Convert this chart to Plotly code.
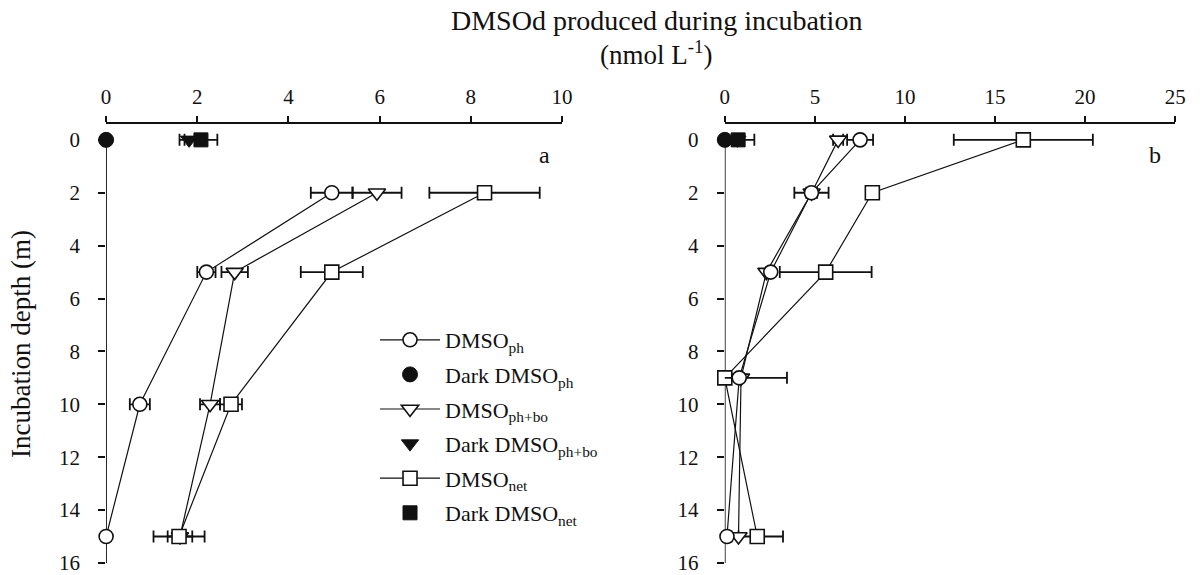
import plotly.graph_objects as go

# ---------------- data ----------------
# Panel a
a_depth = [2, 5, 10, 15]
a_ph = [4.95, 2.20, 0.74, 0.0]
a_ph_err = [0.46, 0.20, 0.22, 0.0]
a_phbo = [5.94, 2.82, 2.28, 1.62]
a_phbo_err = [0.54, 0.29, 0.22, 0.27]
a_net = [8.30, 4.95, 2.74, 1.60]
a_net_err = [1.21, 0.68, 0.24, 0.56]
a_dark_depth = [0]
a_dark_ph = [0.0]
a_dark_ph_err = [0.0]
a_dark_phbo = [1.82]
a_dark_phbo_err = [0.21]
a_dark_net = [2.08]
a_dark_net_err = [0.36]

# Panel b
b_depth = [0, 2, 5, 9, 15]
b_ph = [7.51, 4.81, 2.55, 0.80, 0.12]
b_ph_err = [0.72, 0.95, 0.0, 0.0, 0.0]
b_phbo = [6.29, 4.82, 2.31, 0.90, 0.76]
b_phbo_err = [0.28, 0.30, 0.0, 2.55, 0.0]
b_net = [16.57, 8.19, 5.60, 0.0, 1.80]
b_net_err = [3.86, 0.0, 2.55, 0.0, 1.43]
b_dark_depth = [0]
b_dark_ph = [0.0]
b_dark_ph_err = [0.0]
b_dark_phbo = [0.70]
b_dark_phbo_err = [0.0]
b_dark_net = [0.74]
b_dark_net_err = [0.90]

names = ["DMSO<sub>ph</sub>", "Dark DMSO<sub>ph</sub>",
         "DMSO<sub>ph+bo</sub>", "Dark DMSO<sub>ph+bo</sub>",
         "DMSO<sub>net</sub>", "Dark DMSO<sub>net</sub>"]

FONT = "Liberation Serif"
BLACK = "#111111"

# figure geometry (px) used to convert to paper coords
W, H, T, B = 1204, 575, 124, 11
PH = H - T - B


def py(pix):
    return (H - B - pix) / PH


fig = go.Figure()


def err(vals):
    return dict(type="data", array=vals, visible=True, color=BLACK,
                thickness=1.8, width=6)


def open_trace(x, e, y, symbol, size, name, xa, ya, show):
    return go.Scatter(
        x=x, y=y, mode="lines+markers", name=name, legendgroup=name,
        showlegend=show, xaxis=xa, yaxis=ya,
        line=dict(color=BLACK, width=1.2),
        marker=dict(symbol=symbol, size=size, color="white",
                    line=dict(color=BLACK, width=1.6)),
        error_x=err(e), cliponaxis=False)


def dark_trace(x, e, y, symbol, size, name, xa, ya, show):
    return go.Scatter(
        x=x, y=y, mode="markers", name=name, legendgroup=name,
        showlegend=show, xaxis=xa, yaxis=ya,
        marker=dict(symbol=symbol, size=size, color=BLACK,
                    line=dict(color=BLACK, width=1)),
        error_x=err(e), cliponaxis=False)


# legend order and panel a
fig.add_trace(open_trace(a_ph, a_ph_err, a_depth, "circle", 14, names[0], "x", "y", True))
fig.add_trace(dark_trace(a_dark_ph, a_dark_ph_err, a_dark_depth, "circle", 15, names[1], "x", "y", True))
fig.add_trace(open_trace(a_phbo, a_phbo_err, a_depth, "triangle-down", 15, names[2], "x", "y", True))
fig.add_trace(dark_trace(a_dark_phbo, a_dark_phbo_err, a_dark_depth, "triangle-down", 15, names[3], "x", "y", True))
fig.add_trace(open_trace(a_net, a_net_err, a_depth, "square", 14, names[4], "x", "y", True))
fig.add_trace(dark_trace(a_dark_net, a_dark_net_err, a_dark_depth, "square", 14, names[5], "x", "y", True))

# panel b
fig.add_trace(open_trace(b_net, b_net_err, b_depth, "square", 14, names[4], "x2", "y2", False))
fig.add_trace(open_trace(b_phbo, b_phbo_err, b_depth, "triangle-down", 15, names[2], "x2", "y2", False))
fig.add_trace(open_trace(b_ph, b_ph_err, b_depth, "circle", 14, names[0], "x2", "y2", False))
fig.add_trace(dark_trace(b_dark_phbo, b_dark_phbo_err, b_dark_depth, "triangle-down", 15, names[3], "x2", "y2", False))
fig.add_trace(dark_trace(b_dark_net, b_dark_net_err, b_dark_depth, "square", 14, names[5], "x2", "y2", False))
fig.add_trace(dark_trace(b_dark_ph, b_dark_ph_err, b_dark_depth, "circle", 15, names[1], "x2", "y2", False))

tickfont = dict(family=FONT, size=21, color=BLACK)
common_x = dict(side="top", showline=True, linecolor=BLACK, linewidth=1.6,
                ticks="outside", ticklen=6, tickwidth=1.6, tickcolor=BLACK,
                showgrid=False, zeroline=False, tickfont=tickfont,
                ticklabelstandoff=4)
common_y = dict(autorange=False, range=[16.04, -0.6], showline=False,
                ticks="outside", ticklen=7, tickwidth=1.6, tickcolor=BLACK,
                tickvals=list(range(0, 17, 2)), showgrid=False, zeroline=False,
                tickfont=tickfont, ticklabelstandoff=14,
                ticklabeloverflow="allow")

fig.update_layout(
    width=W, height=H,
    margin=dict(l=0, r=0, t=T, b=B),
    paper_bgcolor="white", plot_bgcolor="white",
    font=dict(family=FONT, color=BLACK),
    xaxis=dict(domain=[0.0851, 0.4689], range=[0, 10], tickvals=list(range(0, 11, 2)),
               anchor="y", **common_x),
    yaxis=dict(domain=[0, 1], anchor="x",
               title=dict(text="Incubation depth (m)", font=dict(family=FONT, size=27, color=BLACK),
                          standoff=20),
               **common_y),
    xaxis2=dict(domain=[0.6059, 0.9850], range=[0, 25], tickvals=list(range(0, 26, 5)),
                anchor="y2", **common_x),
    yaxis2=dict(domain=[0, 1], anchor="x2", **common_y),
    showlegend=True,
    legend=dict(x=375 / W, y=py(319), xanchor="left", yanchor="top",
                font=dict(family=FONT, size=22, color=BLACK),
                itemwidth=60, tracegroupgap=3, bgcolor="rgba(0,0,0,0)",
                traceorder="grouped", itemclick=False),
    shapes=[
        dict(type="line", xref="x", yref="y", x0=0, x1=0, y0=0, y1=16,
             line=dict(color=BLACK, width=1.6), layer="below"),
        dict(type="line", xref="x2", yref="y2", x0=0, x1=0, y0=0, y1=16,
             line=dict(color=BLACK, width=1.6), layer="below"),
    ],
    annotations=[
        dict(text="DMSOd produced during incubation", xref="paper", yref="paper",
             x=660 / W, y=py(20), xanchor="center", yanchor="middle",
             showarrow=False, font=dict(family=FONT, size=28, color=BLACK)),
        dict(text="(nmol L<sup>-1</sup>)", xref="paper", yref="paper",
             x=660 / W, y=py(53), xanchor="center", yanchor="middle",
             showarrow=False, font=dict(family=FONT, size=27, color=BLACK)),
        dict(text="a", xref="paper", yref="paper", x=547 / W, y=py(155),
             xanchor="center", yanchor="middle", showarrow=False,
             font=dict(family=FONT, size=24, color=BLACK)),
        dict(text="b", xref="paper", yref="paper", x=1165 / W, y=py(155),
             xanchor="center", yanchor="middle", showarrow=False,
             font=dict(family=FONT, size=24, color=BLACK)),
    ],
)

fig.write_html("out.html")
